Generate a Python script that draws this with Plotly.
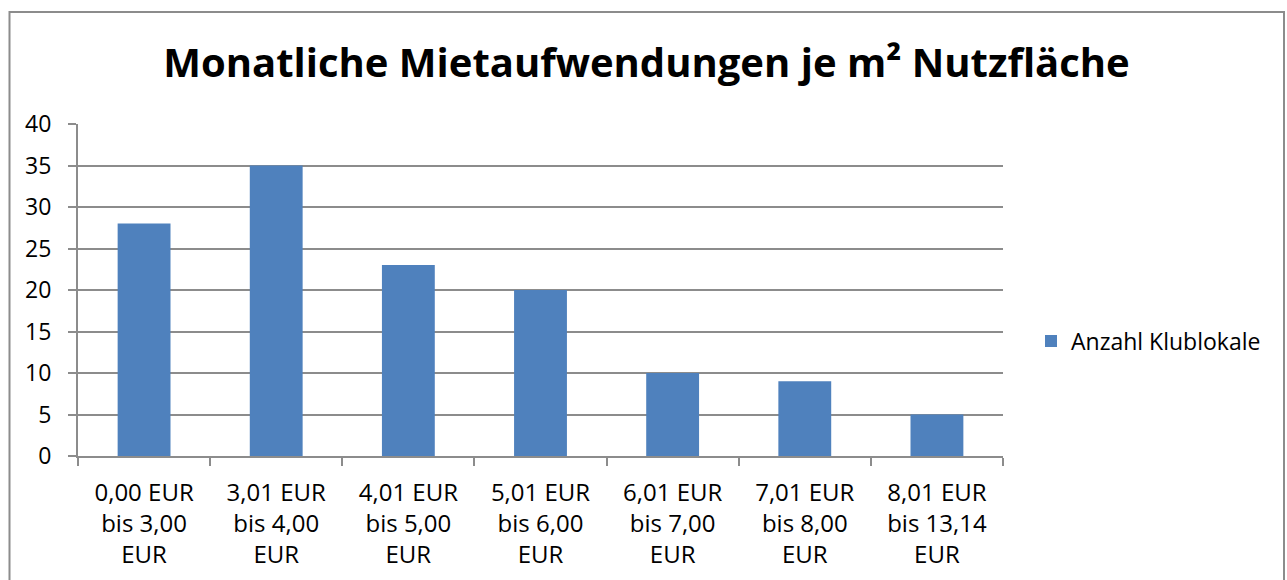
import plotly.graph_objects as go

categories = [
    "0,00 EUR<br>bis 3,00<br>EUR",
    "3,01 EUR<br>bis 4,00<br>EUR",
    "4,01 EUR<br>bis 5,00<br>EUR",
    "5,01 EUR<br>bis 6,00<br>EUR",
    "6,01 EUR<br>bis 7,00<br>EUR",
    "7,01 EUR<br>bis 8,00<br>EUR",
    "8,01 EUR<br>bis 13,14<br>EUR",
]
values = [28, 35, 23, 20, 10, 9, 5]
series_name = "Anzahl Klublokale"
title_text = "Monatliche Mietaufwendungen je m² Nutzfläche"
y_ticks = [0, 5, 10, 15, 20, 25, 30, 35, 40]

FONT = "Open Sans"
GRID = "#8c8c8c"

fig = go.Figure()
fig.add_trace(go.Bar(
    x=categories, y=values, name=series_name,
    marker=dict(color="#4F81BD", line=dict(width=0)),
    showlegend=True,
))

# plot area in px: x 78..1003, y 124..456
L, R, T, B = 78, 1003, 124, 456
W, H = R - L, B - T

def px_x(p):
    return (p - L) / W

def px_y(p):
    return (B - p) / H

fig.update_layout(
    width=1287, height=580,
    margin=dict(l=L, r=1287 - R, t=T, b=580 - B, autoexpand=False),
    paper_bgcolor="white", plot_bgcolor="white",
    font=dict(family=FONT, size=24, color="black"),
    bargap=0.6,
    title=dict(text="<b>" + title_text + "</b>", x=px_x(646.5), xref="paper", xanchor="center",
               y=1 - 63 / 580, yref="container", yanchor="middle",
               font=dict(family=FONT, size=40, color="black")),
    legend=dict(x=px_x(1031), xanchor="left", y=px_y(341), yanchor="middle",
                font=dict(family=FONT, size=23), itemwidth=30, bgcolor="rgba(0,0,0,0)"),
    xaxis=dict(
        type="category", showgrid=False, showline=True, linecolor=GRID, linewidth=2,
        ticks="outside", tickson="boundaries", ticklen=8, tickcolor=GRID, tickwidth=2,
        tickfont=dict(family=FONT, size=24), zeroline=False, ticklabelstandoff=14,
    ),
    yaxis=dict(
        range=[0, 40], tickvals=y_ticks, showgrid=True, gridcolor=GRID, gridwidth=1.5,
        showline=True, linecolor=GRID, linewidth=2, ticks="outside", ticklen=8,
        tickcolor=GRID, tickwidth=1.5, zeroline=False, ticklabelstandoff=12,
        tickfont=dict(family=FONT, size=23),
    ),
    shapes=[dict(type="rect", xref="paper", yref="paper",
                 x0=px_x(9.5), x1=px_x(1284), y0=px_y(600), y1=px_y(12),
                 line=dict(color="#8c8c8c", width=2), fillcolor="rgba(0,0,0,0)", layer="below")],
)

fig.write_html("out.html")
